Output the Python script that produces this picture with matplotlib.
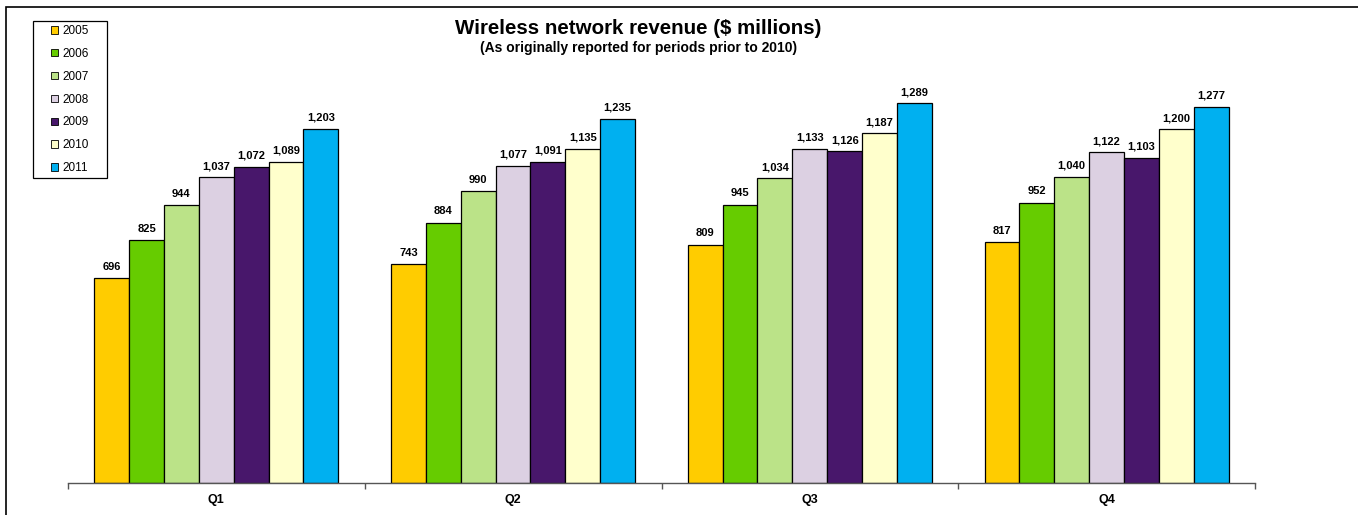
import matplotlib
matplotlib.use("Agg")
import matplotlib.pyplot as plt
from matplotlib.patches import Rectangle, Patch
import numpy as np

plt.rcParams['font.family'] = ['Liberation Sans', 'DejaVu Sans']

quarters = ["Q1", "Q2", "Q3", "Q4"]
years = ["2005", "2006", "2007", "2008", "2009", "2010", "2011"]
rev_2005 = [696, 743, 809, 817]
rev_2006 = [825, 884, 945, 952]
rev_2007 = [944, 990, 1034, 1040]
rev_2008 = [1037, 1077, 1133, 1122]
rev_2009 = [1072, 1091, 1126, 1103]
rev_2010 = [1089, 1135, 1187, 1200]
rev_2011 = [1203, 1235, 1289, 1277]
series = [rev_2005, rev_2006, rev_2007, rev_2008, rev_2009, rev_2010, rev_2011]
colors = ["#FFCC00", "#66CC00", "#BBE388", "#DCD0E2", "#48176B", "#FFFFCC", "#00B0F0"]

W, H = 1358, 515
fig = plt.figure(figsize=(W / 100, H / 100), dpi=100)


def px_rect(x0, y0, x1, y1):
    """figure-fraction rectangle from pixel coords (top-left origin)."""
    return (x0 / W, 1 - y1 / H), (x1 - x0) / W, (y1 - y0) / H


# outer chart frame (extends past right/bottom edges)
fig.patches.append(Rectangle((6 / W, -0.2), 1.2, (H - 7) / H + 0.2,
                             transform=fig.transFigure, fill=False,
                             edgecolor="black", lw=1.2, zorder=0))

ax = fig.add_axes([68 / W, (H - 483) / H, (1255 - 68) / W, (483 - 20) / H])
ax.set_xlim(0, 4)
ax.set_ylim(0, 463 / 0.2946)

bw = 0.1175
start = 0.0885
x = np.arange(len(quarters))
for i, (vals, c, yr) in enumerate(zip(series, colors, years)):
    xs = x + start + bw * i + bw / 2
    bars = ax.bar(xs, vals, width=bw, color=c, edgecolor="black", lw=0.9, label=yr, zorder=2)
    for b, v in zip(bars, vals):
        ax.annotate(f"{v:,}", (b.get_x() + b.get_width() / 2, v), xytext=(0, 4.5),
                    textcoords="offset points", ha="center", va="bottom",
                    fontsize=8, fontweight="bold")

for s in ["top", "right", "left"]:
    ax.spines[s].set_visible(False)
ax.spines["bottom"].set_color("#555555")
ax.spines["bottom"].set_linewidth(1.0)
ax.set_yticks([])
ax.set_xticks([0, 1, 2, 3, 4])
ax.set_xticklabels([])
ax.set_xticks(x + 0.5, minor=True)
ax.set_xticklabels(quarters, minor=True, fontsize=9, fontweight="bold")
ax.tick_params(axis="x", which="major", length=4, direction="out", color="#555555", width=1)
ax.tick_params(axis="x", which="minor", length=0, pad=8)

fig.text(638.5 / W, 1 - 28 / H, "Wireless network revenue ($ millions)", ha="center", va="center",
         fontsize=14.8, fontweight="bold")
fig.text(638.5 / W, 1 - 48 / H, "(As originally reported for periods prior to 2010)", ha="center",
         va="center", fontsize=10, fontweight="bold")

# legend
(lx, ly), lw_, lh_ = px_rect(33, 21, 107, 178)
fig.patches.append(Rectangle((lx, ly), lw_, lh_, transform=fig.transFigure, fill=False,
                             edgecolor="black", lw=0.9, zorder=3))
handles = [Patch(facecolor=c, edgecolor="black", lw=0.6, label=yr) for c, yr in zip(colors, years)]
leg = fig.legend(handles=handles, loc="upper left", bbox_to_anchor=(51 / W, 1 - 25 / H),
                 fontsize=8.5, frameon=False, handlelength=0.6, handleheight=0.6,
                 handletextpad=0.35, labelspacing=0.92, borderpad=0, borderaxespad=0)

fig.savefig("out.png", dpi=100)
